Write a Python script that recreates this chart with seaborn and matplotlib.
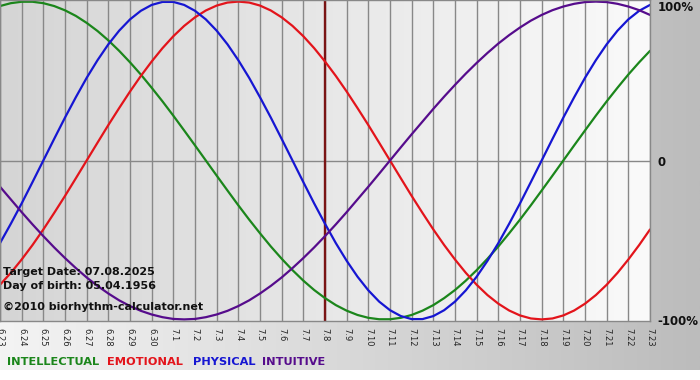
import numpy as np
import pandas as pd
import seaborn as sns
import matplotlib.pyplot as plt
from matplotlib.colors import LinearSegmentedColormap

# days shown on the x axis (month.day)
days = ["6.23", "6.24", "6.25", "6.26", "6.27", "6.28", "6.29", "6.30",
        "7.1", "7.2", "7.3", "7.4", "7.5", "7.6", "7.7", "7.8", "7.9", "7.10",
        "7.11", "7.12", "7.13", "7.14", "7.15", "7.16", "7.17", "7.18", "7.19",
        "7.20", "7.21", "7.22", "7.23"]
target_day = "7.8"

# curve readings every half day (day index 0, 0.5, 1, ... 30), -1 .. 1
intellectual = [0.972, 0.990, 0.999, 0.999, 0.990, 0.972, 0.945, 0.910, 0.866, 0.815,
                0.756, 0.690, 0.618, 0.541, 0.458, 0.372, 0.282, 0.189, 0.095, 0.000,
                -0.095, -0.189, -0.282, -0.372, -0.458, -0.541, -0.618, -0.690, -0.756, -0.815,
                -0.866, -0.910, -0.945, -0.972, -0.990, -0.999, -0.999, -0.990, -0.972, -0.945,
                -0.910, -0.866, -0.815, -0.756, -0.690, -0.618, -0.541, -0.458, -0.372, -0.282,
                -0.189, -0.095, 0.000, 0.095, 0.189, 0.282, 0.372, 0.458, 0.541, 0.618, 0.690]
emotional = [-0.782, -0.707, -0.623, -0.532, -0.434, -0.330, -0.223, -0.112, 0.000, 0.112,
             0.223, 0.330, 0.434, 0.532, 0.623, 0.707, 0.782, 0.847, 0.901, 0.944,
             0.975, 0.994, 1.000, 0.994, 0.975, 0.944, 0.901, 0.847, 0.782, 0.707,
             0.623, 0.532, 0.434, 0.330, 0.223, 0.112, 0.000, -0.112, -0.223, -0.330,
             -0.434, -0.532, -0.623, -0.707, -0.782, -0.847, -0.901, -0.944, -0.975, -0.994,
             -1.000, -0.994, -0.975, -0.944, -0.901, -0.847, -0.782, -0.707, -0.623, -0.532, -0.434]
physical = [-0.520, -0.398, -0.270, -0.136, 0.000, 0.136, 0.270, 0.398, 0.520, 0.631,
            0.731, 0.817, 0.888, 0.942, 0.979, 0.998, 0.998, 0.979, 0.942, 0.888,
            0.817, 0.731, 0.631, 0.520, 0.398, 0.270, 0.136, 0.000, -0.136, -0.270,
            -0.398, -0.520, -0.631, -0.731, -0.817, -0.888, -0.942, -0.979, -0.998, -0.998,
            -0.979, -0.942, -0.888, -0.817, -0.731, -0.631, -0.520, -0.398, -0.270, -0.136,
            0.000, 0.136, 0.270, 0.398, 0.520, 0.631, 0.731, 0.817, 0.888, 0.942, 0.979]
intuitive = [-0.165, -0.245, -0.325, -0.402, -0.476, -0.547, -0.614, -0.677, -0.736, -0.789,
             -0.837, -0.880, -0.916, -0.946, -0.969, -0.986, -0.997, -1.000, -0.997, -0.986,
             -0.969, -0.946, -0.916, -0.880, -0.837, -0.789, -0.736, -0.677, -0.614, -0.547,
             -0.476, -0.402, -0.325, -0.245, -0.165, -0.083, 0.000, 0.083, 0.165, 0.245,
             0.325, 0.402, 0.476, 0.547, 0.614, 0.677, 0.736, 0.789, 0.837, 0.880,
             0.916, 0.946, 0.969, 0.986, 0.997, 1.000, 0.997, 0.986, 0.969, 0.946, 0.916]

series = ["INTELLECTUAL", "EMOTIONAL", "PHYSICAL", "INTUITIVE"]
colors = ["#1b861b", "#e3141b", "#1616d2", "#560c8c"]

sns.set_style("white")
plt.rcParams['font.family'] = ['DejaVu Sans']

half_days = np.arange(len(physical)) / 2
df = pd.DataFrame({
    "day": list(half_days) * 4,
    "value": intellectual + emotional + physical + intuitive,
    "cycle": [s for s in series for _ in half_days],
})

W, H = 700, 380
fig = plt.figure(figsize=(W / 100, H / 100), dpi=100)
fig.patch.set_facecolor("white")

# outer grey gradient (white strip left at bottom)
bg = fig.add_axes([0, 10 / H, 1, 370 / H], zorder=0)
outer = LinearSegmentedColormap.from_list("outer", ["#f4f4f4", "#bcbcbc"])
bg.imshow(np.linspace(0, 1, 256)[None, :], aspect="auto", cmap=outer,
          extent=[0, 1, 0, 1])
bg.axis("off")

ax = fig.add_axes([0, 59 / H, 650 / W, 321 / H], zorder=1)
inner = LinearSegmentedColormap.from_list("inner", ["#d5d5d5", "#fafafa"])
ax.imshow(np.linspace(0, 1, 256)[None, :], aspect="auto", cmap=inner,
          extent=[0, len(days) - 1, -1.01, 1.01], zorder=0)

ax.set_axisbelow(True)
ax.set_xticks(range(len(days)))
ax.set_xticklabels(days)
ax.xaxis.grid(True, color="#888888", lw=1)
ax.axhline(0, color="#888888", lw=1, zorder=1)
ax.axvline(days.index(target_day), color="#7a1414", lw=1.7, zorder=1.5)

sns.lineplot(data=df, x="day", y="value", hue="cycle", hue_order=series,
             palette=colors, lw=1.6, legend=False, ax=ax, zorder=2)

ax.set_xlim(0, len(days) - 1)
ax.set_ylim(-1.01, 1.01)
ax.set_yticks([])
ax.set_xlabel("")
ax.set_ylabel("")
for sp in ax.spines.values():
    sp.set_color("#888888")
    sp.set_linewidth(1)
ax.tick_params(axis="x", length=3, width=1, color="#888888", pad=2,
               labelsize=6, labelrotation=270)

for txt, yy in [("100%", 0.977), ("0", 0.495), ("-100%", -0.003)]:
    ax.text(1.012, yy, txt, transform=ax.transAxes, ha="left", va="center",
            fontsize=8.5, fontweight="bold", color="#111111", clip_on=False)

info = [("Target Date: 07.08.2025", 272), ("Day of birth: 05.04.1956", 286),
        ("\u00a92010 biorhythm-calculator.net", 307)]
for txt, py in info:
    fig.text(3 / W, 1 - py / H, txt, ha="left", va="center", fontsize=8,
             fontweight="bold", color="#111111", zorder=5)

legend_x = [7, 107, 193, 262]
for name, col, px in zip(series, colors, legend_x):
    fig.text(px / W, 1 - 362 / H, name, ha="left", va="center", fontsize=8.2,
             fontweight="bold", color=col)

fig.savefig("out.png", dpi=100)
